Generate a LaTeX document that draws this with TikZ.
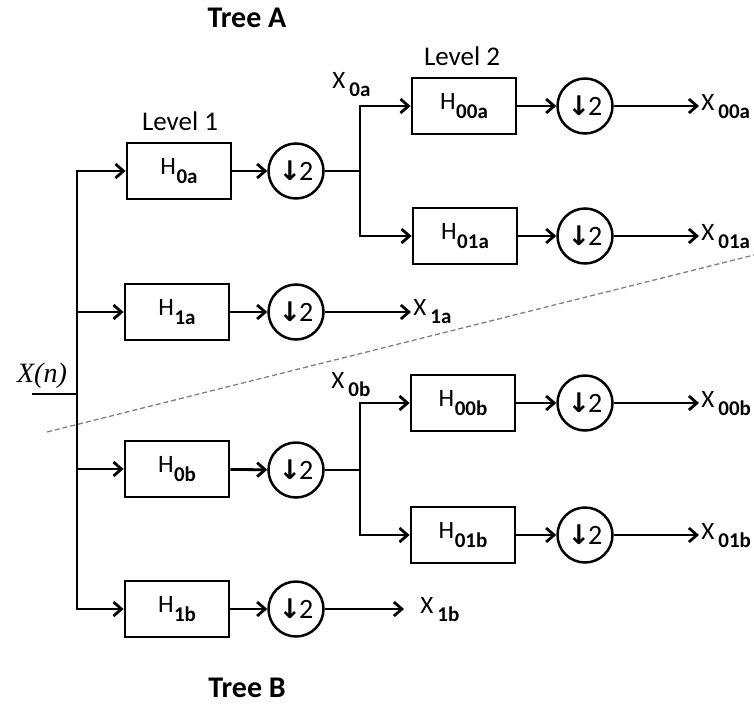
\documentclass[tikz,border=0pt]{standalone}
\usepackage{fontspec}
\setmainfont{Carlito}
\newfontfamily\dvfont{DejaVu Sans}
\newfontfamily\timesfont{Liberation Serif}
\usetikzlibrary{arrows.meta}
\begin{document}
\begin{tikzpicture}[x=1pt,y=-1pt,
  line width=2.8pt,
  >={Straight Barb[length=8pt,width=14pt,line width=2.8pt]},
  filt/.style={draw,rectangle,minimum width=104pt,minimum height=56pt,inner sep=0pt,font=\fontsize{25}{27}\selectfont},
  dec/.style={draw,circle,minimum size=55pt,inner sep=0pt,line width=2.5pt,font=\fontsize{28}{30}\selectfont},
  lbl/.style={inner sep=0pt,font=\fontsize{25}{27}\selectfont},
  ttl/.style={inner sep=0pt,font=\fontsize{30}{32}\selectfont\bfseries},
  lev/.style={inner sep=0pt,font=\fontsize{27}{29}\selectfont}]
\newcommand{\dn}{{\dvfont\bfseries\fontsize{27}{29}\selectfont ↓}\kern-2pt 2}
\newcommand{\hh}[1]{H\kern0.5pt\raisebox{-9pt}{\fontsize{21}{21}\selectfont\bfseries #1}}
\newcommand{\xx}[1]{X\hspace{4pt}\raisebox{-8pt}{\fontsize{21}{21}\selectfont\bfseries #1}}
\useasboundingbox (0,0) rectangle (754,704);
% titles
\node[ttl] (ta) at (247,18) {Tree A};
\node[ttl] (tb) at (247,688) {Tree B};
\node[lev] (l1) at (180,121) {Level 1};
\node[lev] (l2) at (462,56) {Level 2};
% filters
\node[filt] (H0a) at (179,171) {\hh{0a}};
\node[filt] (H1a) at (177,312) {\hh{1a}};
\node[filt] (H0b) at (177,469) {\hh{0b}};
\node[filt] (H1b) at (177,609) {\hh{1b}};
\node[filt] (H00a) at (464,106) {\hh{00a}};
\node[filt] (H01a) at (465,236) {\hh{01a}};
\node[filt] (H00b) at (463,403) {\hh{00b}};
\node[filt] (H01b) at (463,535) {\hh{01b}};
% decimators
\node[dec] (D0a) at (296,171) {\dn};
\node[dec] (D1a) at (296,312) {\dn};
\node[dec] (D0b) at (296,470) {\dn};
\node[dec] (D1b) at (296,609) {\dn};
\node[dec] (D00a) at (585,106) {\dn};
\node[dec] (D01a) at (585,236) {\dn};
\node[dec] (D00b) at (585,403) {\dn};
\node[dec] (D01b) at (585,535) {\dn};
% input
\node[inner sep=0pt,font=\fontsize{28}{30}\selectfont\timesfont\itshape] (xn) at (42,376) {X(n)};
\coordinate (in) at (32,394);
\coordinate (inj) at (77,394);
\coordinate (b0a) at (77,171);
\coordinate (b1a) at (77,312);
\coordinate (b0b) at (77,469);
\coordinate (b1b) at (77,609);
\draw (in) -- (inj);
\draw[line cap=rect] (b0a) -- (b1b);
\draw[->] (b0a) -- (H0a);
\draw[->] (b1a) -- (H1a);
\draw[->] (b0b) -- (H0b);
\draw[->] (b1b) -- (H1b);
\draw[->] (H0a) -- (D0a);
\draw[->] (H1a) -- (D1a);
\draw[->] (H0b) -- (D0b);
\draw[->] (H1b) -- (D1b);
% branch A
\coordinate (ja) at (360,171);
\coordinate (ja0) at (360,106);
\coordinate (ja1) at (360,236);
\draw (D0a) -- (ja);
\draw[line cap=rect] (ja0) -- (ja1);
\draw[->] (ja0) -- (H00a);
\draw[->] (ja1) -- (H01a);
\node[lbl,anchor=base west] (X0a) at (331,88) {\xx{0a}};
% branch B
\coordinate (jb) at (360,470);
\coordinate (jb0) at (360,403);
\coordinate (jb1) at (360,535);
\draw (D0b) -- (jb);
\draw[line cap=rect] (jb0) -- (jb1);
\draw[->] (jb0) -- (H00b);
\draw[->] (jb1) -- (H01b);
\node[lbl,anchor=base west] (X0b) at (330,388) {\xx{0b}};
% level 2 chains
\draw[->] (H00a) -- (D00a);
\draw[->] (H01a) -- (D01a);
\draw[->] (H00b) -- (D00b);
\draw[->] (H01b) -- (D01b);
% outputs
\node[lbl,anchor=base west] (X00a) at (700,110) {\xx{00a}};
\node[lbl,anchor=base west] (X01a) at (700,240) {\xx{01a}};
\node[lbl,anchor=base west] (X00b) at (700,407) {\xx{00b}};
\node[lbl,anchor=base west] (X01b) at (700,539) {\xx{01b}};
\node[lbl,anchor=base west] (X1a) at (412,315) {\xx{1a}};
\node[lbl,anchor=base west] (X1b) at (419,613) {\xx{1b}};
\coordinate (o00a) at (699,106);
\coordinate (o01a) at (699,236);
\coordinate (o00b) at (699,403);
\coordinate (o01b) at (699,535);
\coordinate (o1a) at (411,312);
\coordinate (o1b) at (404,609);
\draw[->] (D00a) -- (o00a);
\draw[->] (D01a) -- (o01a);
\draw[->] (D00b) -- (o00b);
\draw[->] (D01b) -- (o01b);
\draw[->] (D1a) -- (o1a);
\draw[->] (D1b) -- (o1b);
% divider
\coordinate (d1) at (47,432);
\coordinate (d2) at (754,255);
\draw[gray,line width=1.3pt,dash pattern=on 5pt off 3pt] (d1) -- (d2);
\end{tikzpicture}
\end{document}
